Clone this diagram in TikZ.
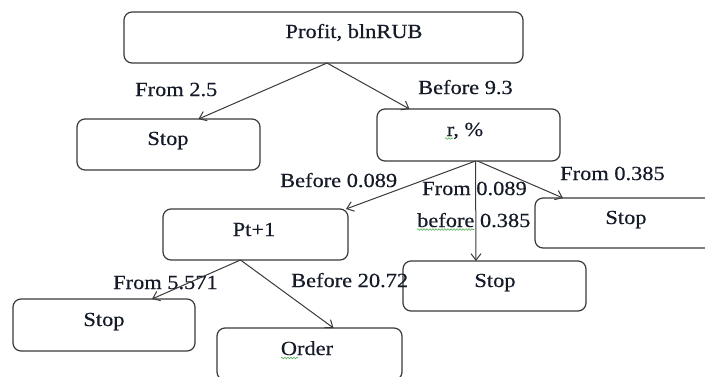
\documentclass[tikz,border=0pt]{standalone}
\usepackage{fontspec}
\newfontfamily\diagfont[FakeStretch=1.12,FakeBold=0.4]{Liberation Serif}
\usetikzlibrary{arrows.meta,decorations.pathmorphing}
\definecolor{boxline}{HTML}{3A3A3A}
\definecolor{txt}{HTML}{141A28}
\definecolor{spell}{HTML}{4FB04F}
\begin{document}
\begin{tikzpicture}[x=1pt,y=-1pt,
  box/.style={draw=boxline,line width=1.2pt,rounded corners=8pt,inner sep=0pt,outer sep=0pt,minimum height=51pt},
  txtnode/.style={font=\diagfont\fontsize{20}{24}\selectfont,text=txt,inner sep=0pt,anchor=base},
  lbl/.style={font=\diagfont\fontsize{20}{24}\selectfont,text=txt,inner sep=0pt,anchor=base west},
  arr/.style={draw=boxline,line width=1pt,-{Straight Barb[length=6.5pt,width=10pt]}},
  squig/.style={draw=spell,line width=0.6pt,decorate,decoration={snake,amplitude=0.8pt,segment length=3pt}}]
\useasboundingbox (0,0) rectangle (705,376);
\fill[white] (0,0) rectangle (705,376);
\clip (0,0) rectangle (705,376);

% boxes
\node[box,minimum width=399pt] (profit) at (323.5,37.5) {};
\node[box,minimum width=183pt] (stopa) at (168.5,144.5) {};
\node[box,minimum width=183pt,minimum height=52pt] (r) at (468.5,135) {};
\node[box,minimum width=185pt] (pt) at (255.5,234.5) {};
\node[box,minimum width=183pt,minimum height=50pt] (stopm) at (494.5,286) {};
\node[box,minimum width=183pt,minimum height=50pt] (stopr) at (626.5,223) {};
\node[box,minimum width=182pt,minimum height=52pt] (stopl) at (104,325) {};
\node[box,minimum width=185pt,minimum height=52pt] (order) at (309.5,354) {};

% box texts
\node[txtnode] (tprofit) at (354,38) {Profit, blnRUB};
\node[txtnode] (tstopa) at (168,145) {Stop};
\node[txtnode] (tr) at (465,136) {r, \%};
\node[txtnode] (tpt) at (254,236) {Pt+1};
\node[txtnode] (tstopm) at (495,287) {Stop};
\node[txtnode] (tstopr) at (626,224) {Stop};
\node[txtnode] (tstopl) at (104,326) {Stop};
\node[txtnode] (torder) at (307,355) {Order};

% labels
\node[lbl] (l1) at (135,96) {From 2.5};
\node[lbl] (l2) at (418,94) {Before 9.3};
\node[lbl] (l3) at (280,187) {Before 0.089};
\node[lbl] (l4) at (422,195) {From 0.089};
\node[lbl] (l5) at (417,227) {before 0.385};
\node[lbl] (l6) at (560,180) {From 0.385};
\node[lbl] (l7) at (113,289) {From 5.571};
\node[lbl] (l8) at (291,287) {Before 20.72};

% spell-check squiggles
\draw[squig] ([yshift=-2.5pt]l5.base west) -- ++(57,0);
\draw[squig] ([xshift=-20pt,yshift=-2.5pt]tr.base) -- ++(8,0);
\draw[squig] ([xshift=-26pt,yshift=-3pt]torder.base) -- ++(17,0);

% connectors
\draw[arr] ([xshift=3.5pt]profit.south) -- ([xshift=30pt]stopa.north);
\draw[arr] ([xshift=3.5pt]profit.south) -- ([xshift=-59pt]r.north);
\draw[arr] ([xshift=7pt]r.south) -- ([xshift=-2pt]pt.north east);
\draw[arr] ([xshift=7pt]r.south) -- ([xshift=-18.5pt]stopm.north);
\draw[arr] ([xshift=9pt]r.south) -- ([xshift=28pt]stopr.north west);
\draw[arr] ([xshift=-15pt]pt.south) -- ([xshift=48pt]stopl.north);
\draw[arr] ([xshift=-15pt]pt.south) -- ([xshift=24pt]order.north);
\end{tikzpicture}
\end{document}
